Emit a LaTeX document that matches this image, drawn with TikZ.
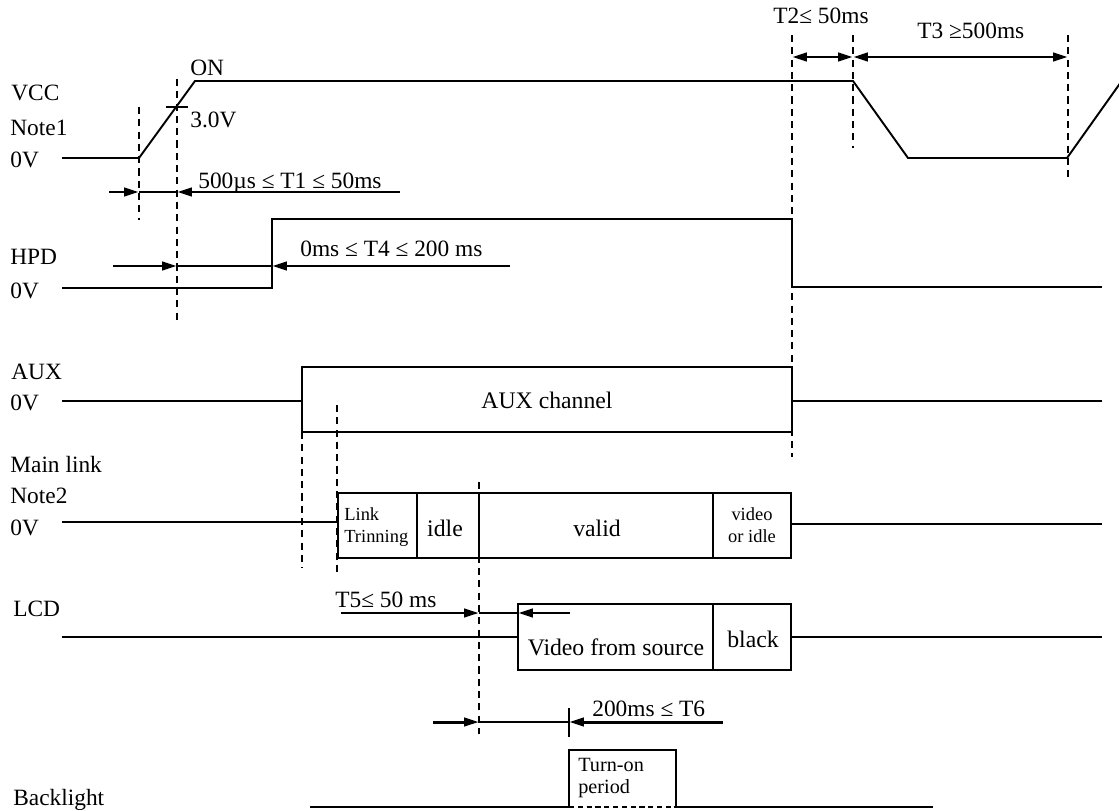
\documentclass[tikz,border=0pt]{standalone}
\usepackage{fontspec}
\setmainfont{Liberation Serif}
\usepackage{tikz}
\usetikzlibrary{arrows.meta}
\tikzset{
  sig/.style={line width=1.1pt},
  guide/.style={line width=1.1pt, dash pattern=on 4pt off 3pt},
  dimtip/.style={-{Triangle[length=8.5pt,width=4.8pt]}, line width=1.7pt},
  dimtwo/.style={{Triangle[length=8.5pt,width=4.8pt]}-{Triangle[length=8.5pt,width=4.8pt]}, line width=1.7pt},
  thinlink/.style={line width=0.7pt},
  lbl/.style={font=\fontsize{13.3}{15}\selectfont, inner sep=0pt, anchor=base west},
  boxtxt/.style={font=\fontsize{13.5}{16}\selectfont, inner sep=0pt, anchor=base},
  smalltxt/.style={font=\fontsize{10.5}{12.5}\selectfont, inner sep=0pt, anchor=base west, align=left},
}
\begin{document}
\begin{tikzpicture}[x=0.02cm, y=-0.02cm]
  \useasboundingbox[fill=white] (0,0) rectangle (1119,811);
  % signal names
  \node[lbl] (nVcc) at (11,101) {VCC};
  \node[lbl] (nNote1) at (10,135) {Note1};
  \node[lbl] (nVccZero) at (10,168) {0V};
  \node[lbl] (nHpd) at (10,264) {HPD};
  \node[lbl] (nHpdZero) at (10,298) {0V};
  \node[lbl] (nAux) at (11,379) {AUX};
  \node[lbl] (nAuxZero) at (10,410) {0V};
  \node[lbl] (nMain) at (10,472) {Main link};
  \node[lbl] (nNote2) at (10,503) {Note2};
  \node[lbl] (nMainZero) at (10,535) {0V};
  \node[lbl] (nLcd) at (13,616) {LCD};
  \node[lbl] (nBack) at (13,805) {Backlight};
  % VCC
  \draw[sig] (62,158) -- (139,158) -- (195,81) -- (853,81) -- (908,158) -- (1067,158) -- (1121,82);
  \draw[sig] (166,107) -- (188,107);
  \node[lbl] (nOn) at (190,76) {ON};
  \node[lbl] (nThree) at (190,128) {3.0V};
  \draw[guide] (139,107) -- (139,220);
  \draw[guide] (177,79) -- (177,320);
  \draw[dimtip] (109,192) -- (139,192);
  \draw[dimtip] (400,192) -- (177,192);
  \draw[line width=1.2pt] (139,192) -- (177,192);
  \node[lbl] (nT1) at (198,188) {500µs ≤ T1 ≤ 50ms};
  % power off
  \draw[guide] (792,35) -- (792,457);
  \draw[guide] (853,35) -- (853,148);
  \draw[guide] (1068,35) -- (1068,180);
  \draw[dimtwo] (792,57) -- (853,57);
  \draw[dimtwo] (853,57) -- (1068,57);
  \node[lbl] (nT2) at (773,24) {T2≤ 50ms};
  \node[lbl] (nT3) at (917,39) {T3 ≥500ms};
  % HPD
  \draw[sig] (62,288) -- (272,288) -- (272,219) -- (792,219) -- (792,287) -- (1102,287);
  \draw[dimtip] (113,266) -- (177,266);
  \draw[dimtip] (510,266) -- (272,266);
  \draw[thinlink] (177,266) -- (272,266);
  \node[lbl] (nT4) at (300,256) {0ms ≤ T4 ≤ 200 ms};
  % AUX
  \draw[sig] (62,401) -- (302,401);
  \draw[sig] (302,367) rectangle (792,432);
  \draw[sig] (792,401) -- (1102,401);
  \node[boxtxt] (nAuxCh) at (547,408) {AUX channel};
  \draw[guide] (302,432) -- (302,568);
  \draw[guide] (337,405) -- (337,573);
  % Main link
  \draw[sig] (62,522) -- (338,522);
  \draw[sig] (338,493) rectangle (791,558);
  \foreach \xd in {417,479,713}
    \draw[sig] (\xd,493) -- (\xd,558);
  \draw[sig] (791,524) -- (1102,524);
  \node[smalltxt] (nTrain) at (344,542) {Link\\[-0.5pt]Trinning};
  \node[boxtxt] (nIdle) at (445,536) {idle};
  \node[boxtxt] (nValid) at (597,536) {valid};
  \node[smalltxt, anchor=base, align=center] (nVidIdle) at (752,542) {video\\[-0.5pt]or idle};
  \draw[guide] (479,482) -- (479,734);
  % LCD
  \draw[sig] (62,637) -- (518,637);
  \draw[sig] (518,604) rectangle (791,670);
  \draw[sig] (713,604) -- (713,670);
  \draw[sig] (791,637) -- (1102,637);
  \node[boxtxt] (nVideo) at (616,655) {Video from source};
  \node[boxtxt] (nBlack) at (753,647) {black};
  \draw[dimtip] (341,613) -- (479,613);
  \draw[dimtip] (570,613) -- (518,613);
  \draw[thinlink] (479,613) -- (518,613);
  \node[lbl] (nT5) at (335,607) {T5≤ 50 ms};
  % Backlight
  \draw[dimtip] (433,722) -- (479,722);
  \draw[dimtip] (723,722) -- (569,722);
  \draw[thinlink] (479,722) -- (569,722);
  \draw[sig] (569,708) -- (569,737);
  \node[lbl] (nT6) at (592,716) {200ms ≤ T6};
  \draw[sig] (310,807) -- (569,807) -- (569,750) -- (676,750) -- (676,807) -- (933,807);
  \draw[line width=1.1pt, dash pattern=on 3pt off 2pt] (569,807) -- (676,807);
  \node[smalltxt, font=\fontsize{11.5}{13}\selectfont] (nTurn) at (578,793) {Turn-on\\[-1pt]period};
\end{tikzpicture}
\end{document}
